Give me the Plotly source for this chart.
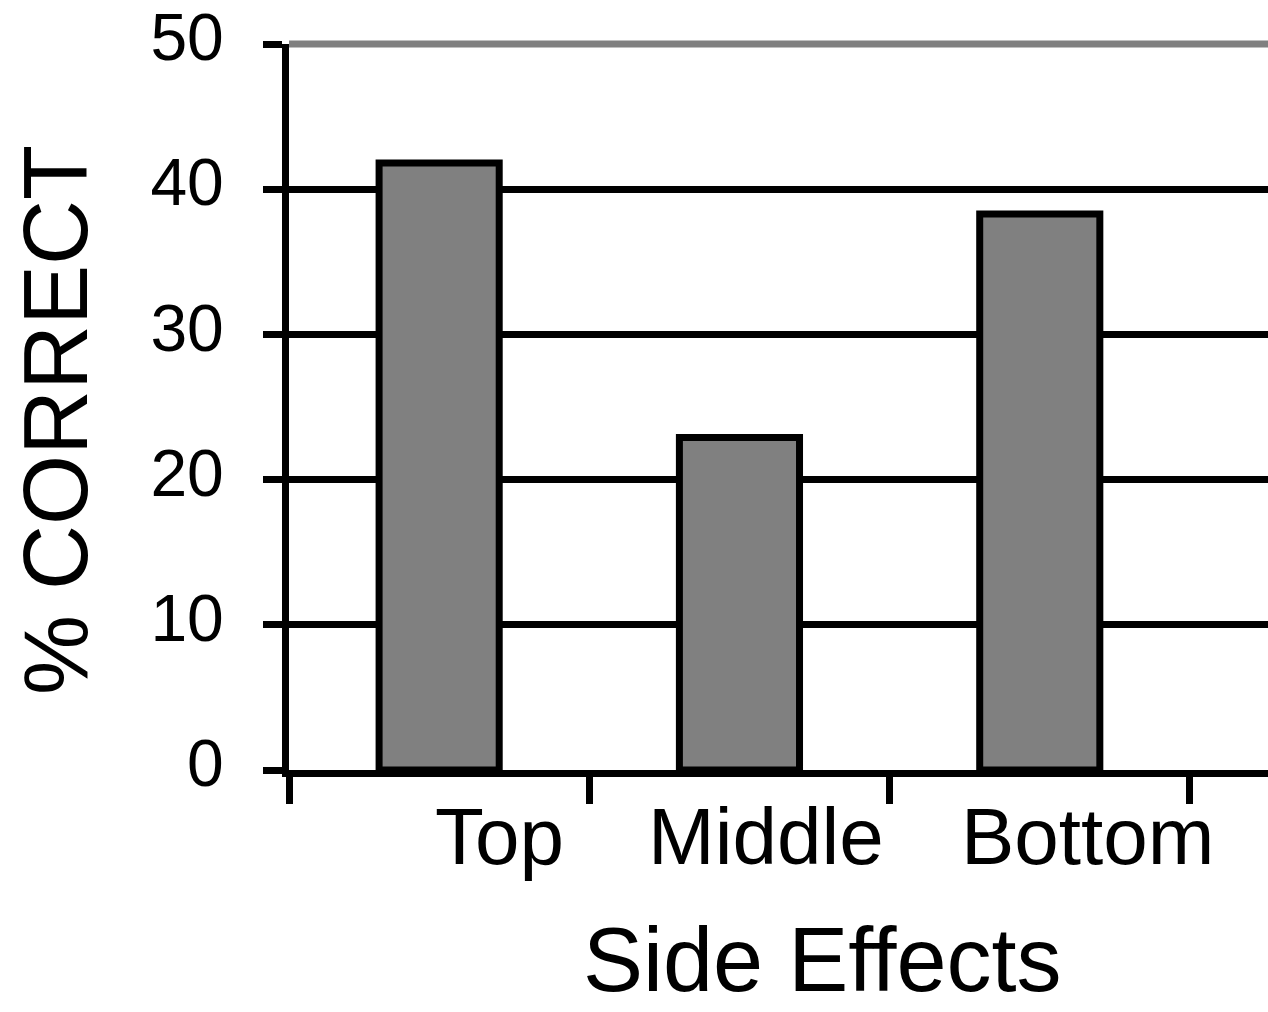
import plotly.graph_objects as go

categories = ["Top", "Middle", "Bottom"]
values = [41.8, 22.9, 38.3]
y_ticks = [0, 10, 20, 30, 40, 50]
x_label_positions = [0.20, 1.09, 2.16]

FONT = "Liberation Sans, Arial, sans-serif"

fig = go.Figure()
fig.add_trace(go.Bar(
    x=list(range(len(categories))),
    y=values,
    width=0.4,
    marker=dict(color="#808080", line=dict(color="black", width=7)),
    hoverinfo="skip",
))

fig.update_layout(
    template="none",
    width=1268, height=1012,
    margin=dict(l=289, r=0, t=44, b=242, pad=0),
    paper_bgcolor="white", plot_bgcolor="white",
    showlegend=False,
    font=dict(family=FONT, color="black"),
    xaxis=dict(
        automargin=False,
        range=[-0.5, 2.76],
        tickvals=[-0.5, 0.5, 1.5, 2.5],
        ticktext=["", "", "", ""],
        ticks="outside", ticklen=27, tickwidth=7, tickcolor="black",
        showline=True, linecolor="black", linewidth=7,
        showgrid=False, zeroline=False,
    ),
    yaxis=dict(
        automargin=False,
        range=[0, 50],
        tickvals=y_ticks,
        ticktext=[str(v) for v in y_ticks],
        ticks="outside", ticklen=19, tickwidth=7, tickcolor="black",
        showline=True, linecolor="black", linewidth=7,
        showgrid=True, gridcolor="black", gridwidth=7,
        zeroline=False,
        tickfont=dict(family=FONT, size=66, color="black"),
        ticklabelstandoff=26,
        ticklabelshift=-7,
        ticklabeloverflow="allow",
    ),
)

# gray top gridline at the top of the plot (value 50), drawn below the axis line
fig.add_shape(type="line", xref="paper", yref="paper", x0=0, x1=1, y0=1, y1=1,
              line=dict(color="#808080", width=7), layer="below")

for lab, xp in zip(categories, x_label_positions):
    fig.add_annotation(x=xp, y=-0.092, xref="x", yref="paper", text=lab,
                       showarrow=False, yanchor="middle", xanchor="center",
                       font=dict(family=FONT, size=80, color="black"))

fig.add_annotation(x=1.278, y=-0.262, xref="x", yref="paper", text="Side Effects",
                   showarrow=False, yanchor="middle", xanchor="center",
                   font=dict(family=FONT, size=90, color="black"))

fig.add_annotation(x=-0.238, y=0.482, xref="paper", yref="paper", text="% CORRECT",
                   textangle=-90, showarrow=False, xanchor="center", yanchor="middle",
                   font=dict(family=FONT, size=90, color="black"))

fig.write_html("out.html", config={"displayModeBar": False},
               post_script="document.body.style.margin='0px';")
